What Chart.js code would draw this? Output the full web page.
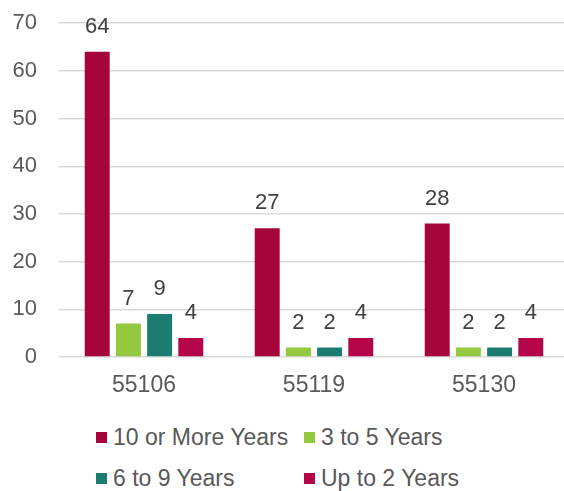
<!DOCTYPE html>
<html>
<head>
<meta charset="utf-8">
<script src="https://cdn.jsdelivr.net/npm/chart.js@4.4.1/dist/chart.umd.min.js"></script>
<style>
  html, body { margin: 0; padding: 0; background: #fff; overflow: hidden; }
  #wrap { position: absolute; left: 0; top: -12px; width: 570px; height: 423px; }
  #legend { position: absolute; left: 0; top: 424px; width: 564px; font-family: "Liberation Sans", Arial, sans-serif; font-size: 23px; color: #595959; }
  .item { position: absolute; display: flex; align-items: center; white-space: nowrap; }
  .box { width: 11px; height: 11px; margin-right: 6px; }
</style>
</head>
<body>
<div id="wrap"><canvas id="chart" width="570" height="423"></canvas></div>
<div id="legend"></div>
<script>
const categories = ['55106', '55119', '55130'];
const seriesNames = ['10 or More Years', '3 to 5 Years', '6 to 9 Years', 'Up to 2 Years'];
const tenPlus = [64, 27, 28];
const threeToFive = [7, 2, 2];
const sixToNine = [9, 2, 2];
const upToTwo = [4, 4, 4];
const colors = ['#A6053B', '#93C83F', '#1C7C72', '#B6064A'];
const yTicks = [0, 10, 20, 30, 40, 50, 60, 70];

const font = '"Liberation Sans", Arial, sans-serif';

// values above the bars
const valueLabels = {
    id: 'valueLabels',
    afterDatasetsDraw(chart) {
        const ctx = chart.ctx;
        ctx.save();
        ctx.font = '22px ' + font;
        ctx.fillStyle = '#404040';
        ctx.textAlign = 'center';
        ctx.textBaseline = 'bottom';
        chart.data.datasets.forEach((ds, i) => {
            chart.getDatasetMeta(i).data.forEach((bar, j) => {
                ctx.fillText(ds.data[j], bar.x, bar.y - 14);
            });
        });
        ctx.restore();
    }
};

const allSeries = [tenPlus, threeToFive, sixToNine, upToTwo];

const chart = new Chart(document.getElementById('chart'), {
    type: 'bar',
    data: {
        labels: categories,
        datasets: allSeries.map((vals, i) => ({
            label: seriesNames[i],
            data: vals,
            backgroundColor: colors[i],
            categoryPercentage: 0.734,
            barPercentage: 0.8
        }))
    },
    options: {
        responsive: false,
        animation: false,
        layout: { padding: { top: -2, left: 12, right: 1, bottom: 0 } },
        plugins: { legend: { display: false }, tooltip: { enabled: false } },
        scales: {
            x: {
                grid: { display: false },
                border: { display: false },
                ticks: { color: '#595959', font: { family: font, size: 23 }, padding: 7 },
                afterFit: axis => { axis.height = 54; }
            },
            y: {
                min: 0,
                max: 70,
                afterBuildTicks: axis => { axis.ticks = yTicks.map(v => ({ value: v })); },
                grid: { color: '#D9D9D9', lineWidth: 1.5, drawTicks: false },
                border: { display: false },
                ticks: { color: '#595959', font: { family: font, size: 22 }, padding: 22 },
                afterFit: axis => { axis.width = 47; }
            }
        }
    },
    plugins: [valueLabels]
});

// legend laid out in two aligned columns
const legend = document.getElementById('legend');
const spots = [[96, 0], [304, 0], [96, 41], [304, 41]];
seriesNames.forEach((name, i) => {
    const item = document.createElement('div');
    item.className = 'item';
    item.style.left = spots[i][0] + 'px';
    item.style.top = spots[i][1] + 'px';
    item.innerHTML = `<span class="box" style="background:${colors[i]}"></span>${name}`;
    legend.appendChild(item);
});
</script>
</body>
</html>
